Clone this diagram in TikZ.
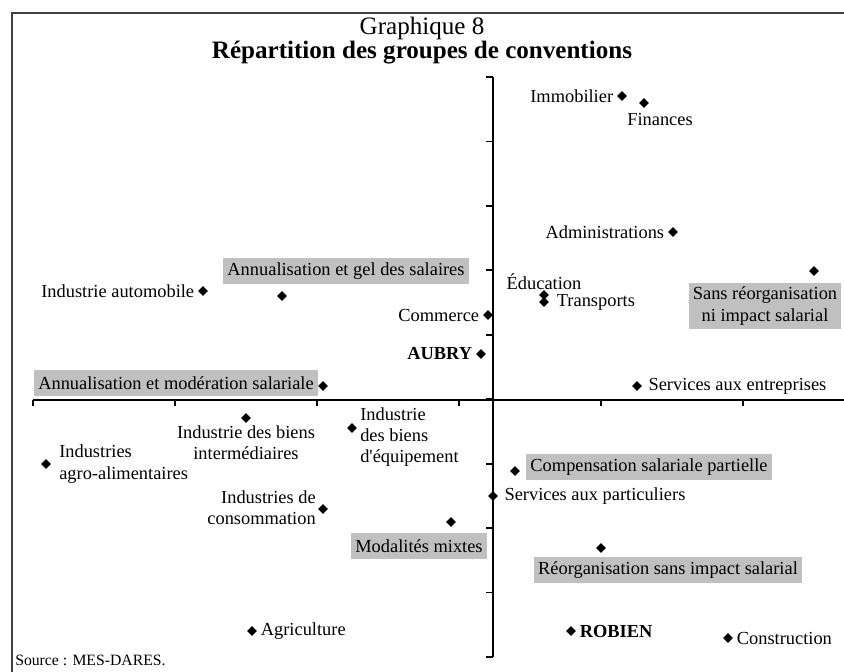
\documentclass[tikz,border=0pt]{standalone}
\usepackage{fontspec}
\setmainfont{Liberation Serif}
\usetikzlibrary{positioning,shapes.geometric}
\definecolor{groupGray}{RGB}{192,192,192}
\definecolor{frameGray}{RGB}{64,64,64}
\newcommand{\labelSize}[0]{\fontsize{13.8}{16}\selectfont}
\newcommand{\titleSize}[0]{\fontsize{18.8}{22}\selectfont}

\begin{document}
\begin{tikzpicture}[x=0.75pt, y=-0.75pt]
  \tikzset{every node/.style={font=\labelSize},
           pt/.style={diamond, fill=black, inner sep=0pt, minimum size=7.5pt},
           lbl/.style={inner sep=1.5pt},
           groupbox/.style={fill=groupGray, inner xsep=3pt, minimum height=20pt},
           axis/.style={line width=1.4pt}}
  \useasboundingbox (0,0) rectangle (844,672);
  \clip (0,0) rectangle (844,672);
  \draw[frameGray, line width=1.5pt] (12,12.5) rectangle (870,700);
  \node (title) at (422,28) {\titleSize Graphique 8};
  \node (subtitle) at (422,53) {\titleSize\bfseries Répartition des groupes de conventions};
  % axes
  \coordinate (xStart) at (33,400);
  \coordinate (xEnd) at (850,400);
  \coordinate (yTop) at (493,77);
  \coordinate (yBottom) at (493,657);
  \draw[axis] (xStart) -- (xEnd);
  \draw[axis] (yTop) -- (yBottom);
  \foreach \k in {0,...,5}
    \draw[axis] (33+142*\k,400) -- ++(0,6);
  \foreach \k in {0,...,9}
    \draw[axis] (493,77+64.44*\k) -- ++(-7,0);
  % sectors
  \node[pt] (immo) at (622,96) {};
  \node[lbl, left=1pt of immo] {Immobilier};
  \node[pt] (fin) at (644,103) {};
  \node[lbl] at (660,119) {Finances};
  \node[pt] (admin) at (673,232) {};
  \node[lbl, left=1pt of admin] {Administrations};
  \node[pt] (educ) at (544,295) {};
  \node[lbl] at (544,282) {Éducation};
  \node[pt] (transp) at (544,302) {};
  \node[lbl, right=4pt of transp] {Transports};
  \node[pt] (comm) at (488,315) {};
  \node[lbl, left=1pt of comm] {Commerce};
  \node[pt] (aubry) at (481,354) {};
  \node[lbl, left=1pt of aubry] {\bfseries AUBRY};
  \node[pt] (servEnt) at (637,386) {};
  \node[lbl, right=3pt of servEnt] {Services aux entreprises};
  \node[pt] (auto) at (203,291) {};
  \node[lbl, left=1pt of auto] {Industrie automobile};
  \node[pt] (inter) at (246,418) {};
  \node[lbl, below=0pt of inter, align=center] {Industrie des biens\\intermédiaires};
  \node[pt] (equip) at (352,428) {};
  \node[lbl, anchor=west, align=left] at (358,437) {Industrie\\des biens\\d\textquotesingle équipement};
  \node[pt] (agro) at (46,464) {};
  \node[lbl, anchor=west, align=left] at (57,464) {Industries\\agro-alimentaires};
  \node[pt] (conso) at (323,509) {};
  \node[lbl, anchor=east, align=right] at (318,508) {Industries de\\consommation};
  \node[pt] (servPart) at (493,496) {};
  \node[lbl, right=3pt of servPart] {Services aux particuliers};
  \node[pt] (agri) at (252,631) {};
  \node[lbl, right=1pt of agri] {Agriculture};
  \node[pt] (robien) at (571,631) {};
  \node[lbl, right=1pt of robien] {\bfseries ROBIEN};
  \node[pt] (constr) at (728,638) {};
  \node[lbl, right=1pt of constr] {Construction};
  % groups of conventions
  \node[pt] (gel) at (282,296) {};
  \node[groupbox] (gelBox) at (346,271) {Annualisation et gel des salaires};
  \node[pt] (moder) at (323,386) {};
  \node[groupbox] (moderBox) at (176,383) {Annualisation et modération salariale};
  \node[pt] (sansReorg) at (814,271) {};
  \node[groupbox, align=center] (sansReorgBox) at (765,306) {Sans réorganisation\\ni impact salarial};
  \node[pt] (comp) at (515,471) {};
  \node[groupbox] (compBox) at (649,467) {Compensation salariale partielle};
  \node[pt] (mixte) at (451,522) {};
  \node[groupbox] (mixteBox) at (419,546) {Modalités mixtes};
  \node[pt] (reorg) at (601,548) {};
  \node[groupbox] (reorgBox) at (668,570) {Réorganisation sans impact salarial};
  \node[lbl, anchor=west] (source) at (13,660) {\fontsize{11.8}{14}\selectfont Source : MES-DARES.};
\end{tikzpicture}
\end{document}
